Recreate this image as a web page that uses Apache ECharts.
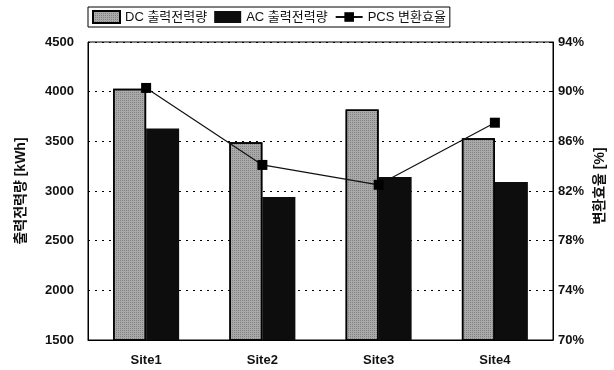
<!DOCTYPE html>
<html><head><meta charset="utf-8">
<script src="https://cdn.jsdelivr.net/npm/echarts@6/dist/echarts.min.js"></script>
<style>html,body{margin:0;padding:0;background:#fff}#c{width:614px;height:370px}</style>
</head><body><div id="c"></div>
<script>
const categories = ['Site1', 'Site2', 'Site3', 'Site4'];
const dcEnergy = [4030, 3490, 3820, 3530];
const acEnergy = [3630, 2940, 3140, 3090];
const pcsEfficiency = [90.3, 84.1, 82.5, 87.5];
const leftTicks = [1500, 4500, 500];
const rightTicks = [70, 94, 4];

const FONT = "'Liberation Sans', 'Noto Sans CJK KR', sans-serif";
const chart = echarts.init(document.getElementById('c'));
chart.setOption({
  animation: false,
  backgroundColor: '#fff',
  textStyle: { fontFamily: FONT },
  legend: {
    left: 88, top: 7,
    borderColor: '#000', borderWidth: 1, padding: [3, 4],
    itemGap: 7, itemWidth: 27, itemHeight: 12,
    textStyle: { fontFamily: FONT, fontSize: 13, color: '#111' },
    data: [
      { name: 'DC 출력전력량', icon: 'rect' },
      { name: 'AC 출력전력량', icon: 'rect' },
      { name: 'PCS 변환효율' }
    ]
  },
  graphic: [{
    type: 'text', x: 600, y: 186, rotation: Math.PI / 2,
    style: { text: '변환효율 [%]', font: "bold 14px 'Liberation Sans', 'Noto Sans CJK KR', sans-serif", fill: '#111', align: 'center', verticalAlign: 'middle' }
  }],
  grid: { left: 88, right: 61, top: 42, bottom: 30, show: true, borderColor: '#000', borderWidth: 1 },
  xAxis: {
    type: 'category', data: categories,
    axisLine: { lineStyle: { color: '#000', width: 1 } },
    axisTick: { show: false },
    axisLabel: { color: '#111', fontSize: 13, fontWeight: 'bold', margin: 14, fontFamily: FONT }
  },
  yAxis: [{
    type: 'value', min: leftTicks[0], max: leftTicks[1], interval: leftTicks[2],
    name: '출력전력량 [kWh]', nameLocation: 'middle', nameGap: 60, nameRotate: 90,
    nameTextStyle: { fontSize: 14, color: '#111', fontWeight: 'bold', fontFamily: FONT, padding: [0, 0, 0, 0] },
    axisLine: { show: true, lineStyle: { color: '#000' } },
    axisTick: { show: false },
    axisLabel: { color: '#111', fontSize: 13, fontWeight: 'bold', margin: 14, fontFamily: FONT, formatter: (v) => String(v) },
    splitLine: { show: true, lineStyle: { color: '#000', type: [2, 5], width: 1 } }
  }, {
    type: 'value', min: rightTicks[0], max: rightTicks[1], interval: rightTicks[2],
    axisLine: { show: true, lineStyle: { color: '#000' } },
    axisTick: { show: true, inside: true, length: 4, lineStyle: { color: '#000' } },
    axisLabel: { color: '#111', fontSize: 13, fontWeight: 'bold', margin: 5, fontFamily: FONT, formatter: '{value}%' },
    splitLine: { show: false }
  }],
  series: [{
    name: 'DC 출력전력량', type: 'bar', data: dcEnergy, barWidth: 33, barGap: '0%',
    itemStyle: {
      color: '#a9a9a9', borderColor: '#000', borderWidth: 1.5, borderRadius: 0,
      decal: { symbol: 'rect', symbolSize: 1, dashArrayX: [1, 1], dashArrayY: [1, 1], color: 'rgba(60,60,60,0.35)' }
    }
  }, {
    name: 'AC 출력전력량', type: 'bar', data: acEnergy, barWidth: 33,
    itemStyle: { color: '#0d0d0d', borderRadius: 0 }
  }, {
    name: 'PCS 변환효율', type: 'line', yAxisIndex: 1, data: pcsEfficiency,
    symbol: 'rect', symbolSize: 10,
    lineStyle: { color: '#111', width: 1.2 },
    itemStyle: { color: '#000' }
  }]
});
</script></body></html>
